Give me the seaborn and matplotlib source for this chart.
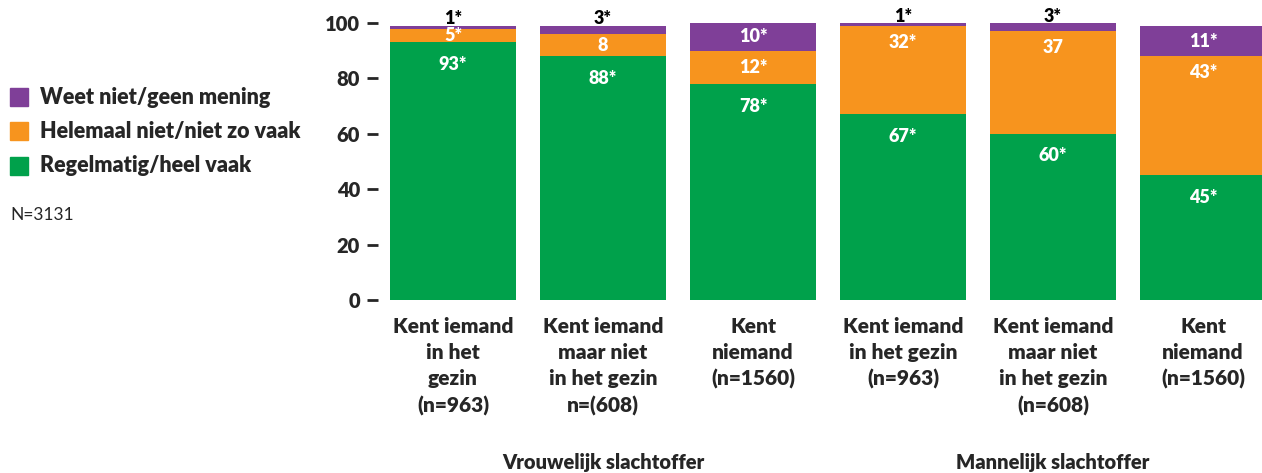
import numpy as np
import pandas as pd
import matplotlib.pyplot as plt
import seaborn as sns

# Data
categories = [
    'Kent iemand\nin het\ngezin\n(n=963)',
    'Kent iemand\nmaar niet\nin het gezin\nn=(608)',
    'Kent\nniemand\n(n=1560)',
    'Kent iemand\nin het gezin\n(n=963)',
    'Kent iemand\nmaar niet\nin het gezin\n(n=608)',
    'Kent\nniemand\n(n=1560)',
]
groups = ['Vrouwelijk slachtoffer', 'Mannelijk slachtoffer']
regelmatig = [93, 88, 78, 67, 60, 45]
niet_vaak = [5, 8, 12, 32, 37, 43]
weet_niet = [1, 3, 10, 1, 3, 11]
lbl_regelmatig = ['93*', '88*', '78*', '67*', '60*', '45*']
lbl_niet_vaak = ['5*', '8', '12*', '32*', '37', '43*']
lbl_weet_niet = ['1*', '3*', '10*', '1*', '3*', '11*']
series_names = ['Weet niet/geen mening', 'Helemaal niet/niet zo vaak', 'Regelmatig/heel vaak']
colors = ['#7F3F98', '#F7941E', '#00A14B']

sns.set_style('white')
plt.rcParams['font.family'] = ['Lato', 'DejaVu Sans']
W = 'heavy'

df = pd.DataFrame({
    'cat': [str(i) for i in range(6)],
    'green': regelmatig,
    'orange': niet_vaak,
    'purple': weet_niet,
})
df['cum_orange'] = df['green'] + df['orange']
df['cum_purple'] = df['cum_orange'] + df['purple']

fig = plt.figure(figsize=(12.62, 4.73), dpi=100)
ax = fig.add_axes([378 / 1262, 1 - 300 / 473, (1262 - 378) / 1262, 277 / 473])

# stacked bars drawn as overlapping cumulative totals
for col, c in zip(['cum_purple', 'cum_orange', 'green'], colors):
    sns.barplot(data=df, x='cat', y=col, color=c, width=0.84, saturation=1,
                ax=ax, linewidth=0, errorbar=None)

ax.set_xlim(-0.5, (1262 - 378) / 150 - 0.5)
ax.set_ylim(0, 100)
ax.set_yticks([0, 20, 40, 60, 80, 100])
ax.set_yticklabels(['0', '20', '40', '60', '80', '100'], fontsize=14.5, fontweight=W)
ax.set_xticks(range(6))
ax.set_xticklabels(categories, fontsize=15, fontweight=W, linespacing=1.45)
ax.tick_params(axis='y', length=8, width=2, direction='out', left=True, pad=5)
ax.tick_params(axis='x', length=0, pad=12)
for s in ax.spines.values():
    s.set_visible(False)
ax.set_xlabel('')
ax.set_ylabel('')

txt = dict(ha='center', va='center', fontsize=13, fontweight=W)
for i in range(6):
    g, o, p = regelmatig[i], niet_vaak[i], weet_niet[i]
    ax.text(i, g - 8, lbl_regelmatig[i], color='white', **txt)
    oy = g + o / 2 if o < 15 else g + o - 6
    ax.text(i, oy, lbl_niet_vaak[i], color='white', **txt)
    if p < 5:
        ax.text(i, g + o + p + 2.5, lbl_weet_niet[i], color='black', clip_on=False, **txt)
    else:
        ax.text(i, g + o + p / 2, lbl_weet_niet[i], color='white', **txt)

# group labels
for k, name in enumerate(groups):
    ax.text(1 + 3 * k, -58.5, name, ha='center', va='center', fontsize=14.5,
            fontweight=W, transform=ax.transData, clip_on=False)

# legend
for k, (name, c) in enumerate(zip(series_names, colors)):
    y = 1 - (97 + 34.5 * k) / 473
    fig.patches.append(plt.Rectangle((10 / 1262, y - 9 / 473), 18 / 1262, 18 / 473,
                                     transform=fig.transFigure, color=c))
    fig.text(40 / 1262, y, name, fontsize=15.5, fontweight=W, va='center')
fig.text(10 / 1262, 1 - 215 / 473, 'N=3131', fontsize=12.5, va='center')

plt.savefig('out.png', dpi=100)
